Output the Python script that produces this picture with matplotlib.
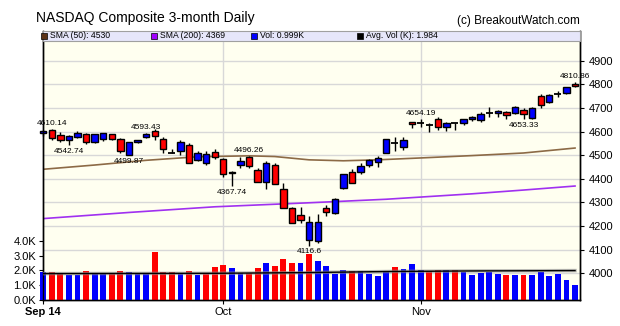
import matplotlib
matplotlib.use("Agg")
import matplotlib.pyplot as plt
from matplotlib.patches import Rectangle

plt.rcParams['font.family'] = ['Liberation Sans', 'DejaVu Sans']

# Daily candles, Sep 2 - Nov 28 2014 (one entry per trading day)
opens = [4592, 4608, 4584, 4563, 4578, 4588, 4554, 4567, 4588, 4567,
         4500, 4555, 4577, 4604, 4569, 4510, 4516, 4544, 4478, 4465,
         4513, 4485, 4424, 4456, 4494, 4437, 4385, 4457, 4355, 4275,
         4245, 4140, 4135, 4275, 4253, 4359, 4430, 4427, 4458, 4469,
         4509, 4551, 4533, 4639, 4637, 4626, 4652, 4618, 4634, 4635,
         4651, 4647, 4679, 4680, 4681, 4677, 4692, 4656, 4752, 4726,
         4757, 4762, 4800]
highs = [4606, 4610.14, 4600, 4585, 4601, 4592, 4590, 4594, 4590, 4571,
         4555, 4566, 4593.43, 4610, 4578, 4527, 4564, 4550, 4519, 4519,
         4527, 4487, 4434, 4494, 4496.26, 4447, 4476, 4468, 4383, 4280,
         4281, 4240, 4250, 4287, 4318, 4420, 4440, 4466, 4484, 4496,
         4568, 4575, 4578, 4641, 4654.19, 4636, 4660, 4640, 4638, 4655,
         4665, 4681, 4702, 4691, 4687, 4710, 4698, 4703, 4760, 4760,
         4773, 4788, 4810.86]
lows = [4580, 4566, 4557, 4542.74, 4572, 4547, 4550, 4560, 4562, 4508,
        4499.87, 4552, 4574, 4565, 4510, 4508, 4500, 4467, 4476, 4457,
        4485, 4408, 4367.74, 4444, 4444, 4385, 4355, 4378, 4276, 4212,
        4212, 4116.6, 4126, 4240, 4250, 4355, 4382, 4420, 4450, 4451,
        4507, 4519, 4523, 4616, 4620, 4597, 4606, 4602, 4606, 4626,
        4643, 4642, 4660, 4663, 4652, 4673, 4653.33, 4655, 4700, 4722,
        4747, 4758, 4787]
closes = [4602, 4572, 4564, 4583, 4592, 4554, 4588, 4592, 4570, 4519,
          4554, 4563, 4591, 4580, 4528, 4509, 4555, 4467, 4510, 4506,
          4493, 4422, 4430, 4475, 4454, 4385, 4468, 4378, 4276, 4213,
          4227, 4215, 4217, 4258, 4316, 4419, 4383, 4452, 4479, 4489,
          4567, 4550, 4566, 4631, 4638, 4624, 4620, 4638, 4632, 4652,
          4660, 4675, 4680, 4688, 4671, 4702, 4675, 4701, 4713, 4755,
          4758, 4787, 4792]
volume_k = [1.91, 1.87, 1.80, 1.69, 1.69, 1.96, 1.82, 1.76, 1.82, 1.96,
            1.89, 1.82, 1.82, 3.24, 1.89, 1.89, 1.78, 1.96, 1.69, 1.78,
            2.23, 2.36, 2.16, 1.82, 1.82, 2.16, 2.50, 2.30, 2.77, 2.50,
            2.50, 3.10, 2.63, 2.30, 1.78, 2.03, 1.96, 1.96, 1.78, 1.64,
            1.96, 2.23, 2.09, 2.45, 2.03, 1.96, 2.03, 2.03, 2.05, 1.87,
            1.71, 1.85, 1.89, 1.78, 1.71, 1.71, 1.71, 1.71, 1.89, 1.64,
            1.78, 1.37, 0.999]

# moving averages read at a few days
sma50_idx = [0, 6, 12, 18, 24, 27, 31, 35, 39, 44, 50, 56, 62]
sma50_val = [4440, 4458, 4478, 4493, 4497, 4494, 4480, 4476, 4480, 4488, 4498, 4509, 4530]
sma200_idx = [0, 10, 20, 31, 40, 50, 56, 62]
sma200_val = [4231, 4257, 4281, 4298, 4313, 4336, 4352, 4369]
avgvol_idx = [0, 20, 31, 40, 50, 62]
avgvol_val = [1.78, 1.80, 1.85, 1.92, 1.96, 1.984]

month_pos = [0, 21, 44]
month_labels = ['Sep 14', 'Oct', 'Nov']
price_ticks = [4000, 4100, 4200, 4300, 4400, 4500, 4600, 4700, 4800, 4900]
vol_ticks = [0, 1, 2, 3, 4]

# (day, where, text)
marks = [(1, 'high', '4610.14'), (3, 'low', '4542.74'), (10, 'low', '4499.87'),
         (12, 'high', '4593.43'), (22, 'low', '4367.74'), (24, 'high', '4496.26'),
         (31, 'low', '4116.6'), (44, 'high', '4654.19'), (56, 'low', '4653.33'),
         (62, 'high', '4810.86')]

fig = plt.figure(figsize=(6.2, 3.26), dpi=100)
ax = fig.add_axes([43 / 620, 26 / 326, 537 / 620, 269 / 326])
ax.set_facecolor('#FFFFF0')
ax.set_xlim(-0.02, 62.58)
ax.set_ylim(3886, 5026)

# grid
for p in price_ticks:
    ax.axhline(p, color='#D8D8D8', lw=1, zorder=0)
for m in month_pos[1:]:
    ax.axvline(m, color='#D8D8D8', lw=1, zorder=0)

# moving averages
ax.plot(sma50_idx, sma50_val, color='#8C6A46', lw=1.2, zorder=2)
ax.plot(sma200_idx, sma200_val, color='#A030F0', lw=1.2, zorder=2)

# candles
for i in range(len(opens)):
    o, h, l, c = opens[i], highs[i], lows[i], closes[i]
    ax.vlines(i, l, h, color='black', lw=1, zorder=3, clip_on=False)
    if abs(c - o) <= 2.5:
        ax.hlines(o, i - 0.4, i + 0.4, color='black', lw=1.3, zorder=4, clip_on=False)
    else:
        col = '#0000FF' if c > o else '#FF0000'
        ax.add_patch(Rectangle((i - 0.37, min(o, c)), 0.74, abs(c - o),
                               facecolor=col, edgecolor='black', lw=1,
                               zorder=4, clip_on=False))

for i, where, txt in marks:
    if where == 'high':
        ax.annotate(txt, (i, highs[i]), xytext=(0, 1.5), textcoords='offset points',
                    ha='center', va='bottom', fontsize=6, zorder=6, annotation_clip=False)
    else:
        ax.annotate(txt, (i, lows[i]), xytext=(0, -2), textcoords='offset points',
                    ha='center', va='top', fontsize=6, zorder=6, annotation_clip=False)

ax.set_xticks(month_pos)
ax.set_xticklabels(month_labels)
ax.tick_params(axis='x', labelsize=8, length=3, pad=2)
ax.get_xticklabels()[0].set_fontweight('bold')

# volume on left axis
axv = ax.twinx()
axv.set_ylim(0, 18.14)
up = [True] + [closes[i] >= closes[i - 1] for i in range(1, len(closes))]
vcol = ['#0000FF' if u else '#FF0000' for u in up]
axv.bar(range(len(volume_k)), volume_k, width=0.68, color=vcol, zorder=2, clip_on=False)
axv.plot(avgvol_idx, avgvol_val, color='#909090', lw=2.5, alpha=0.6, zorder=3)
axv.plot(avgvol_idx, avgvol_val, color='black', lw=1, zorder=4)

# price ticks right, volume ticks left
ax.yaxis.tick_right()
ax.yaxis.set_label_position('right')
ax.set_yticks(price_ticks)
ax.set_yticklabels([str(p) for p in price_ticks])
ax.tick_params(axis='y', which='both', left=False, labelleft=False,
               right=True, labelright=True, labelsize=8, length=3, pad=3)
axv.yaxis.tick_left()
axv.yaxis.set_label_position('left')
axv.set_yticks(vol_ticks)
axv.set_yticklabels(['%.1fK' % v for v in vol_ticks])
axv.tick_params(axis='y', which='both', right=False, labelright=False,
                left=True, labelleft=True, labelsize=8, length=3, pad=2)

for a in (ax, axv):
    for s in a.spines.values():
        s.set_color('black')
        s.set_linewidth(1)
    a.spines['top'].set_visible(False)

# legend band
band_h = 10 / 269
axv.add_patch(Rectangle((0, 1 - band_h), 1, band_h, transform=axv.transAxes,
                        facecolor='#E6E6FA', edgecolor='#A0A0A0', lw=0.8,
                        zorder=10, clip_on=False))
legend_items = [('#5C3317', 'SMA (50): 4530', 41),
                ('#A000FF', 'SMA (200): 4369', 151),
                ('#0000FF', 'Vol: 0.999K', 251),
                ('#000000', 'Avg. Vol (K): 1.984', 357)]
for col, txt, px in legend_items:
    fig.patches.append(Rectangle((px / 620, 1 - 39 / 326), 6 / 620, 6 / 326,
                                 transform=fig.transFigure, facecolor=col,
                                 edgecolor='black', lw=0.5, zorder=11))
    fig.text((px + 9) / 620, 1 - 36 / 326, txt, fontsize=6.2, va='center',
             ha='left', zorder=12)

fig.text(36 / 620, 1 - 18 / 326, 'NASDAQ Composite 3-month Daily',
         fontsize=10, va='center', ha='left')
fig.text(580 / 620, 1 - 21 / 326, '(c) BreakoutWatch.com',
         fontsize=8.5, va='center', ha='right')

fig.savefig('out.png', dpi=100)
